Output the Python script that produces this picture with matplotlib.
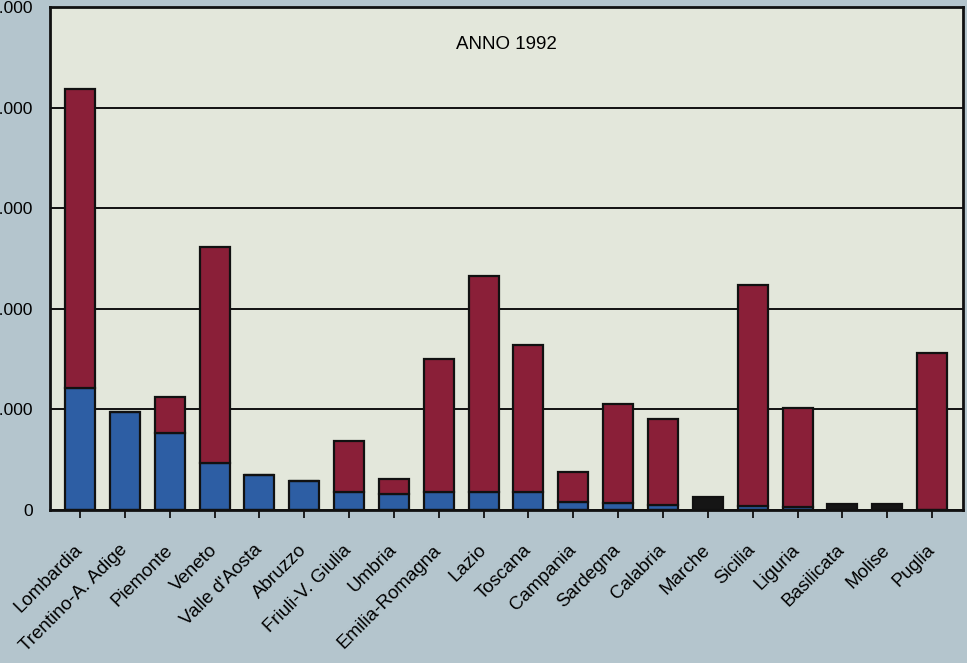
import matplotlib.pyplot as plt
import numpy as np

regioni = ["Lombardia", "Trentino-A. Adige", "Piemonte", "Veneto", "Valle d'Aosta",
           "Abruzzo", "Friuli-V. Giulia", "Umbria", "Emilia-Romagna", "Lazio",
           "Toscana", "Campania", "Sardegna", "Calabria", "Marche", "Sicilia",
           "Liguria", "Basilicata", "Molise", "Puglia"]

blu = [1210, 970, 765, 465, 350, 285, 180, 160, 180, 180,
       180, 80, 70, 50, 0, 40, 30, 0, 0, 0]
rosso = [2970, 0, 360, 2150, 0, 0, 505, 145, 1320, 2145,
         1460, 298, 985, 855, 0, 2200, 985, 0, 0, 1560]
nero = [0, 0, 0, 0, 0, 0, 0, 0, 0, 0,
        0, 0, 0, 0, 130, 0, 0, 55, 55, 0]

yticks = [0, 1000, 2000, 3000, 4000, 5000]
ylabels = ["0", "1.000", "2.000", "3.000", "4.000", "5.000"]

fig = plt.figure(figsize=(9.67, 6.63), dpi=100)
fig.patch.set_facecolor('#b4c5cd')
ax = fig.add_axes([50/967, 153/663, 913/967, 503/663])
ax.set_facecolor('#e3e7db')

x = np.arange(len(regioni))
w = 0.67
blu = np.array(blu)
rosso = np.array(rosso)
ax.bar(x, blu, w, color='#2d5ea4', edgecolor='#111111', lw=1.6, zorder=3)
ax.bar(x, rosso, w, bottom=blu, color='#8a1f38', edgecolor='#111111', lw=1.6, zorder=3)
ax.bar(x, nero, w, color='#151515', edgecolor='#111111', lw=1.6, zorder=3)

ax.set_xlim(-0.67, 19.69)
ax.set_ylim(0, 5000)
ax.set_yticks(yticks)
ax.set_yticklabels(ylabels, fontsize=12.5)
ax.yaxis.grid(True, color='#111111', lw=1.4, zorder=1)
# the scan cuts off the first digit of the y labels
ax.tick_params(axis='y', length=0, pad=12.5)

ax.set_xticks(x)
ax.set_xticklabels(regioni, rotation=45, ha='right', va='center',
                   rotation_mode='anchor', fontsize=13.5)
ax.tick_params(axis='x', length=6, width=1.3, pad=21, color='#111111')

for s in ax.spines.values():
    s.set_linewidth(2)
    s.set_color('#111111')

ax.text(0.5, 0.925, "ANNO 1992", transform=ax.transAxes, ha='center',
        va='center', fontsize=13.5, fontfamily='Liberation Sans')
for t in ax.get_xticklabels() + ax.get_yticklabels():
    t.set_fontfamily('Liberation Sans')

fig.savefig('out.png', dpi=100, facecolor=fig.get_facecolor())
